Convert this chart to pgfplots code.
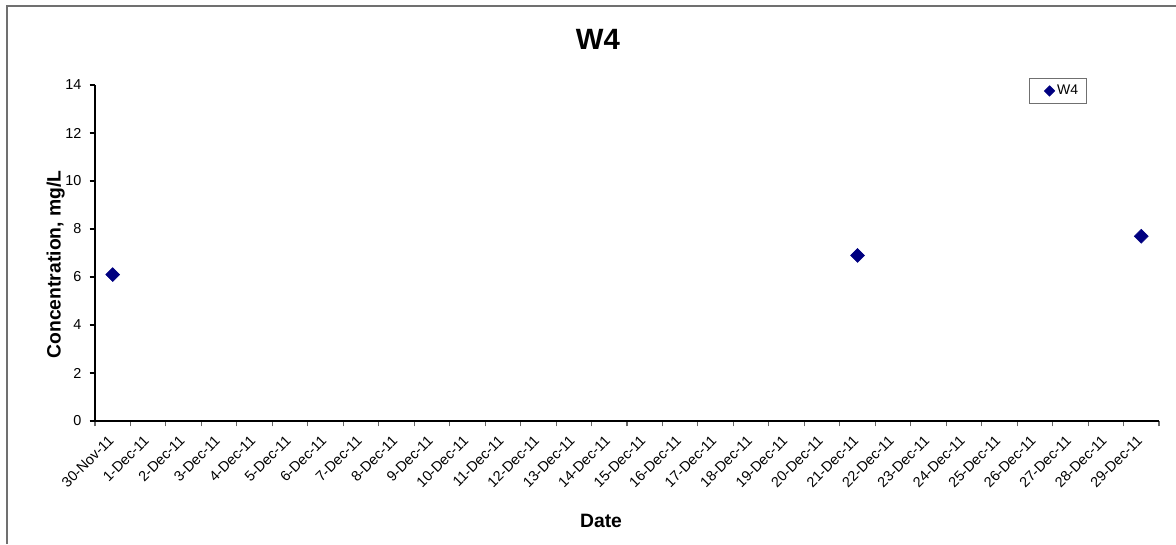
\documentclass[border=0pt]{standalone}
\usepackage{pgfplots}
\pgfplotsset{compat=1.18}
\usepackage{fontspec}
\setmainfont{Liberation Sans}
\definecolor{navyW}{HTML}{000080}
\definecolor{frameg}{HTML}{707070}
\begin{document}
\begin{tikzpicture}
\useasboundingbox (0,0) rectangle (882pt,408pt);
\draw[frameg, line width=0.8pt] (5.25pt,0) -- (5.25pt,403.5pt) -- (882pt,403.5pt);
\begin{axis}[
  at={(71.25pt,92.25pt)}, anchor=south west,
  scale only axis, width=798pt, height=252pt,
  xmin=-0.5, xmax=29.5, ymin=0, ymax=14,
  axis x line*=bottom, axis y line*=left,
  axis line style={-, black, line width=0.8pt},
  xtick={0,...,29},
  xticklabels={30-Nov-11,1-Dec-11,2-Dec-11,3-Dec-11,4-Dec-11,5-Dec-11,6-Dec-11,7-Dec-11,8-Dec-11,9-Dec-11,10-Dec-11,11-Dec-11,12-Dec-11,13-Dec-11,14-Dec-11,15-Dec-11,16-Dec-11,17-Dec-11,18-Dec-11,19-Dec-11,20-Dec-11,21-Dec-11,22-Dec-11,23-Dec-11,24-Dec-11,25-Dec-11,26-Dec-11,27-Dec-11,28-Dec-11,29-Dec-11},
  major x tick style={draw=none},
  minor xtick={-0.5,0.5,...,29.5},
  minor x tick style={black!60, line width=0.8pt},
  minor tick length=4pt,
  ytick={0,2,...,14},
  major y tick style={black, line width=0.8pt},
  major tick length=4pt,
  tick align=outside,
  /pgf/number format/assume math mode=true,
  xticklabel style={font=\fontsize{10.8}{13}\selectfont, inner sep=0pt, anchor=north east, yshift=-6pt, xshift=-4pt, rotate=45},
  yticklabel style={font=\fontsize{10.8}{13}\selectfont, inner sep=0pt, xshift=-6pt},
  title={W4},
  title style={at={(0.4727,1.113)}, anchor=center, font=\fontsize{22}{26}\selectfont\bfseries},
  xlabel={Date},
  xlabel style={at={(axis description cs:0.4756,-0.296)}, anchor=center, font=\fontsize{14.5}{17}\selectfont\bfseries},
  ylabel={Concentration, mg/L},
  ylabel style={at={(axis description cs:-0.037,0.466)}, anchor=center, rotate=0, font=\fontsize{14.5}{17}\selectfont\bfseries},
  legend style={at={(0.932,1.021)}, anchor=north east, draw=frameg, line width=0.8pt, font=\fontsize{10.5}{12}\selectfont, inner xsep=4pt, inner ysep=3pt, legend cell align=left},
  legend image code/.code={\path[draw=none,fill=none] (-7pt,0) -- (0.15cm,0); \draw[#1, mark size=2.6pt] plot coordinates {(0.15cm,0cm)};},
]
\addplot[only marks, mark=square*, mark size=3.7pt, mark options={rotate=45, fill=navyW, draw=navyW}, color=navyW]
  coordinates {(0,6.1) (21,6.9) (29,7.7)};
\addlegendentry{W4}
\end{axis}
\end{tikzpicture}
\end{document}
